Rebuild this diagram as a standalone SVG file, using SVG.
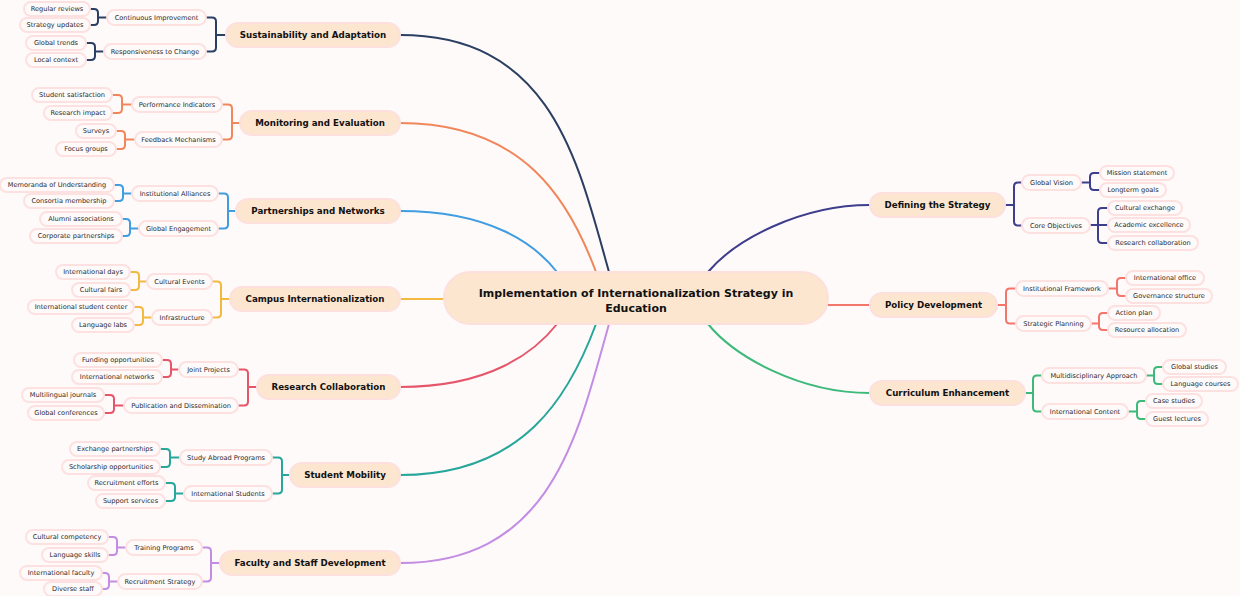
<svg xmlns="http://www.w3.org/2000/svg" width="1240" height="596" viewBox="0 0 1240 596">
<style>
.bg{fill:#fffafa}
.c{fill:none;stroke-width:2;stroke-linecap:round}
.b{fill:none;stroke-width:2}
.root rect{fill:#fce6d0;stroke:#fde0de;stroke-width:2}
.main rect{fill:#fce6d0;stroke:#fde0de;stroke-width:2}
.sub rect,.leaf rect{fill:#fffafa;stroke:#fde0e0;stroke-width:2}
text{font-family:"DejaVu Sans",Verdana,sans-serif;text-anchor:middle;fill:#2a2a2a}
.root text{font-size:11px;font-weight:bold;fill:#111}
.main text{font-size:8.7px;font-weight:bold;fill:#111}
.sub text,.leaf text{font-size:6.6px}
</style>
<rect class="bg" x="0" y="0" width="1240" height="596"/>
<g id="connectors">
<path class="c" stroke="#2a3f61" d="M400 35C552 35 578 162 609 272"/>
<path class="c" stroke="#f0875a" d="M400 123C525 123 570 202 596 272"/>
<path class="c" stroke="#3f9de0" d="M400 211C490 211 535 244 557 272"/>
<path class="c" stroke="#f2b93e" d="M400 299H444"/>
<path class="c" stroke="#e5566a" d="M400 387C490 387 535 352 557 324"/>
<path class="c" stroke="#27a79b" d="M400 475C525 475 570 394 596 324"/>
<path class="c" stroke="#c28de3" d="M400 563C552 563 578 434 609 324"/>
<path class="c" stroke="#3d3e8c" d="M870 205C800 205 735 240 708 272"/>
<path class="c" stroke="#f3756c" d="M828 305H870"/>
<path class="c" stroke="#3dba7a" d="M870 393C800 393 735 357 708 324"/>
<path class="b" stroke="#2a3f61" d="M206 17.5H212Q216 17.5 216 21.5V47.5Q216 51.5 212 51.5H206M216 35H226"/>
<path class="b" stroke="#2a3f61" d="M90 9H94Q98 9 98 13V21Q98 25 94 25H90M98 17.5H107"/>
<path class="b" stroke="#2a3f61" d="M86 43H91Q95 43 95 47V56Q95 60 91 60H86M95 51.5H104"/>
<path class="b" stroke="#f0875a" d="M222 104.5H228Q232 104.5 232 108.5V135.5Q232 139.5 228 139.5H222M232 123H240"/>
<path class="b" stroke="#f0875a" d="M112 95H118Q122 95 122 99V109Q122 113 118 113H112M122 104.5H132"/>
<path class="b" stroke="#f0875a" d="M116 131H121Q125 131 125 135V145Q125 149 121 149H116M125 139.5H135"/>
<path class="b" stroke="#3f9de0" d="M218 193.5H224Q228 193.5 228 197.5V224.5Q228 228.5 224 228.5H218M228 211H236"/>
<path class="b" stroke="#3f9de0" d="M114 185H119Q123 185 123 189V197Q123 201 119 201H114M123 193.5H132"/>
<path class="b" stroke="#3f9de0" d="M122 219H126Q130 219 130 223V232Q130 236 126 236H122M130 228.5H139"/>
<path class="b" stroke="#f2b93e" d="M212 281.5H217Q221 281.5 221 285.5V313.5Q221 317.5 217 317.5H212M221 299H230"/>
<path class="b" stroke="#f2b93e" d="M130 272H135Q139 272 139 276V286Q139 290 135 290H130M139 281.5H147"/>
<path class="b" stroke="#f2b93e" d="M134 307H139Q143 307 143 311V321Q143 325 139 325H134M143 317.5H152"/>
<path class="b" stroke="#e5566a" d="M238 369.5H244Q248 369.5 248 373.5V401.5Q248 405.5 244 405.5H238M248 387H257"/>
<path class="b" stroke="#e5566a" d="M162 360H167Q171 360 171 364V373Q171 377 167 377H162M171 369.5H179"/>
<path class="b" stroke="#e5566a" d="M104 395H110Q114 395 114 399V409Q114 413 110 413H104M114 405.5H124"/>
<path class="b" stroke="#27a79b" d="M272 457.5H278Q282 457.5 282 461.5V489.5Q282 493.5 278 493.5H272M282 475H290"/>
<path class="b" stroke="#27a79b" d="M160 449H166Q170 449 170 453V463Q170 467 166 467H160M170 457.5H180"/>
<path class="b" stroke="#27a79b" d="M165 483H171Q175 483 175 487V497Q175 501 171 501H165M175 493.5H184"/>
<path class="b" stroke="#c28de3" d="M202 547.5H207Q211 547.5 211 551.5V577.5Q211 581.5 207 581.5H202M211 563H220"/>
<path class="b" stroke="#c28de3" d="M108 537H113Q117 537 117 541V551Q117 555 113 555H108M117 547.5H126"/>
<path class="b" stroke="#c28de3" d="M102 573H105Q109 573 109 577V585Q109 589 105 589H102M109 581.5H118"/>
<path class="b" stroke="#3d3e8c" d="M1022 182.5H1018Q1014 182.5 1014 186.5V221.5Q1014 225.5 1018 225.5H1022M1014 205H1005"/>
<path class="b" stroke="#3d3e8c" d="M1100 173H1094Q1090 173 1090 177V186Q1090 190 1094 190H1100M1090 182.5H1081"/>
<path class="b" stroke="#3d3e8c" d="M1108 208H1102Q1098 208 1098 212V239Q1098 243 1102 243H1108M1090 225H1108"/>
<path class="b" stroke="#f3756c" d="M1016 288.5H1010Q1006 288.5 1006 292.5V319.5Q1006 323.5 1010 323.5H1016M1006 305H997"/>
<path class="b" stroke="#f3756c" d="M1126 278H1121Q1117 278 1117 282V292Q1117 296 1121 296H1126M1117 288.5H1108"/>
<path class="b" stroke="#f3756c" d="M1108 313H1103Q1099 313 1099 317V326Q1099 330 1103 330H1108M1099 323.5H1091"/>
<path class="b" stroke="#3dba7a" d="M1042 375.5H1037Q1033 375.5 1033 379.5V407.5Q1033 411.5 1037 411.5H1042M1033 393H1025"/>
<path class="b" stroke="#3dba7a" d="M1163 367H1158Q1154 367 1154 371V380Q1154 384 1158 384H1163M1154 375.5H1146"/>
<path class="b" stroke="#3dba7a" d="M1146 401H1141Q1137 401 1137 405V415Q1137 419 1141 419H1146M1137 411.5H1128"/>
</g>
<g id="root" class="root"><rect x="444" y="272" width="384" height="52" rx="26"/><text x="636" y="297">Implementation of Internationalization Strategy in</text><text x="636" y="311.5">Education</text></g>
<g id="n-sust" class="main"><rect x="226" y="23" width="174" height="24" rx="12"/><text x="313" y="38">Sustainability and Adaptation</text></g>
<g id="n-mon" class="main"><rect x="240" y="111" width="160" height="24" rx="12"/><text x="320" y="126">Monitoring and Evaluation</text></g>
<g id="n-part" class="main"><rect x="236" y="199" width="164" height="24" rx="12"/><text x="318" y="214">Partnerships and Networks</text></g>
<g id="n-camp" class="main"><rect x="230" y="287" width="170" height="24" rx="12"/><text x="315" y="302">Campus Internationalization</text></g>
<g id="n-res" class="main"><rect x="257" y="375" width="143" height="24" rx="12"/><text x="328.5" y="390">Research Collaboration</text></g>
<g id="n-mob" class="main"><rect x="290" y="463" width="110" height="24" rx="12"/><text x="345" y="478">Student Mobility</text></g>
<g id="n-fac" class="main"><rect x="220" y="551" width="180" height="24" rx="12"/><text x="310" y="566">Faculty and Staff Development</text></g>
<g id="n-def" class="main"><rect x="870" y="193" width="135" height="24" rx="12"/><text x="937.5" y="208">Defining the Strategy</text></g>
<g id="n-pol" class="main"><rect x="870" y="293" width="127" height="24" rx="12"/><text x="933.5" y="308">Policy Development</text></g>
<g id="n-cur" class="main"><rect x="870" y="381" width="155" height="24" rx="12"/><text x="947.5" y="396">Curriculum Enhancement</text></g>
<g id="s-ci" class="sub"><rect x="107" y="10" width="99" height="15" rx="7.5"/><text x="156.5" y="19.8">Continuous Improvement</text></g>
<g id="s-rc" class="sub"><rect x="104" y="44" width="102" height="15" rx="7.5"/><text x="155" y="53.8">Responsiveness to Change</text></g>
<g id="l-rr" class="leaf"><rect x="24" y="2" width="66" height="14" rx="7"/><text x="57" y="11.3">Regular reviews</text></g>
<g id="l-su" class="leaf"><rect x="20" y="18" width="70" height="14" rx="7"/><text x="55" y="27.3">Strategy updates</text></g>
<g id="l-gt" class="leaf"><rect x="26" y="36" width="60" height="14" rx="7"/><text x="56" y="45.3">Global trends</text></g>
<g id="l-lc" class="leaf"><rect x="26" y="53" width="60" height="14" rx="7"/><text x="56" y="62.3">Local context</text></g>
<g id="s-pi" class="sub"><rect x="132" y="97" width="90" height="15" rx="7.5"/><text x="177" y="106.8">Performance Indicators</text></g>
<g id="s-fm" class="sub"><rect x="135" y="132" width="87" height="15" rx="7.5"/><text x="178.5" y="141.8">Feedback Mechanisms</text></g>
<g id="l-ss" class="leaf"><rect x="32" y="88" width="80" height="14" rx="7"/><text x="72" y="97.3">Student satisfaction</text></g>
<g id="l-ri" class="leaf"><rect x="44" y="106" width="68" height="14" rx="7"/><text x="78" y="115.3">Research impact</text></g>
<g id="l-sv" class="leaf"><rect x="76" y="124" width="40" height="14" rx="7"/><text x="96" y="133.3">Surveys</text></g>
<g id="l-fg" class="leaf"><rect x="56" y="142" width="60" height="14" rx="7"/><text x="86" y="151.3">Focus groups</text></g>
<g id="s-ia" class="sub"><rect x="132" y="186" width="86" height="15" rx="7.5"/><text x="175" y="195.8">Institutional Alliances</text></g>
<g id="s-ge" class="sub"><rect x="139" y="221" width="79" height="15" rx="7.5"/><text x="178.5" y="230.8">Global Engagement</text></g>
<g id="l-mu" class="leaf"><rect x="0" y="178" width="114" height="14" rx="7"/><text x="57" y="187.3">Memoranda of Understanding</text></g>
<g id="l-cm" class="leaf"><rect x="24" y="194" width="90" height="14" rx="7"/><text x="69" y="203.3">Consortia membership</text></g>
<g id="l-aa" class="leaf"><rect x="40" y="212" width="82" height="14" rx="7"/><text x="81" y="221.3">Alumni associations</text></g>
<g id="l-cp" class="leaf"><rect x="30" y="229" width="92" height="14" rx="7"/><text x="76" y="238.3">Corporate partnerships</text></g>
<g id="s-ce" class="sub"><rect x="147" y="274" width="65" height="15" rx="7.5"/><text x="179.5" y="283.8">Cultural Events</text></g>
<g id="s-in" class="sub"><rect x="152" y="310" width="60" height="15" rx="7.5"/><text x="182" y="319.8">Infrastructure</text></g>
<g id="l-id" class="leaf"><rect x="56" y="265" width="74" height="14" rx="7"/><text x="93" y="274.3">International days</text></g>
<g id="l-cf" class="leaf"><rect x="72" y="283" width="58" height="14" rx="7"/><text x="101" y="292.3">Cultural fairs</text></g>
<g id="l-isc" class="leaf"><rect x="28" y="300" width="106" height="14" rx="7"/><text x="81" y="309.3">International student center</text></g>
<g id="l-ll" class="leaf"><rect x="72" y="318" width="62" height="14" rx="7"/><text x="103" y="327.3">Language labs</text></g>
<g id="s-jp" class="sub"><rect x="179" y="362" width="59" height="15" rx="7.5"/><text x="208.5" y="371.8">Joint Projects</text></g>
<g id="s-pd" class="sub"><rect x="124" y="398" width="114" height="15" rx="7.5"/><text x="181" y="407.8">Publication and Dissemination</text></g>
<g id="l-fo" class="leaf"><rect x="74" y="353" width="88" height="14" rx="7"/><text x="118" y="362.3">Funding opportunities</text></g>
<g id="l-inw" class="leaf"><rect x="72" y="370" width="90" height="14" rx="7"/><text x="117" y="379.3">International networks</text></g>
<g id="l-mj" class="leaf"><rect x="22" y="388" width="82" height="14" rx="7"/><text x="63" y="397.3">Multilingual journals</text></g>
<g id="l-gc" class="leaf"><rect x="28" y="406" width="76" height="14" rx="7"/><text x="66" y="415.3">Global conferences</text></g>
<g id="s-sap" class="sub"><rect x="180" y="450" width="92" height="15" rx="7.5"/><text x="226" y="459.8">Study Abroad Programs</text></g>
<g id="s-ist" class="sub"><rect x="184" y="486" width="88" height="15" rx="7.5"/><text x="228" y="495.8">International Students</text></g>
<g id="l-ep" class="leaf"><rect x="70" y="442" width="90" height="14" rx="7"/><text x="115" y="451.3">Exchange partnerships</text></g>
<g id="l-so" class="leaf"><rect x="62" y="460" width="98" height="14" rx="7"/><text x="111" y="469.3">Scholarship opportunities</text></g>
<g id="l-re" class="leaf"><rect x="88" y="476" width="77" height="14" rx="7"/><text x="126.5" y="485.3">Recruitment efforts</text></g>
<g id="l-ssv" class="leaf"><rect x="96" y="494" width="69" height="14" rx="7"/><text x="130.5" y="503.3">Support services</text></g>
<g id="s-tp" class="sub"><rect x="126" y="540" width="76" height="15" rx="7.5"/><text x="164" y="549.8">Training Programs</text></g>
<g id="s-rs" class="sub"><rect x="118" y="574" width="84" height="15" rx="7.5"/><text x="160" y="583.8">Recruitment Strategy</text></g>
<g id="l-cc" class="leaf"><rect x="26" y="530" width="82" height="14" rx="7"/><text x="67" y="539.3">Cultural competency</text></g>
<g id="l-ls" class="leaf"><rect x="42" y="548" width="66" height="14" rx="7"/><text x="75" y="557.3">Language skills</text></g>
<g id="l-if" class="leaf"><rect x="20" y="566" width="82" height="14" rx="7"/><text x="61" y="575.3">International faculty</text></g>
<g id="l-ds" class="leaf"><rect x="44" y="582" width="58" height="14" rx="7"/><text x="73" y="591.3">Diverse staff</text></g>
<g id="s-gv" class="sub"><rect x="1022" y="175" width="59" height="15" rx="7.5"/><text x="1051.5" y="184.8">Global Vision</text></g>
<g id="s-co" class="sub"><rect x="1022" y="218" width="68" height="15" rx="7.5"/><text x="1056" y="227.8">Core Objectives</text></g>
<g id="l-ms" class="leaf"><rect x="1100" y="166" width="74" height="14" rx="7"/><text x="1137" y="175.3">Mission statement</text></g>
<g id="l-lg" class="leaf"><rect x="1100" y="183" width="66" height="14" rx="7"/><text x="1133" y="192.3">Longterm goals</text></g>
<g id="l-cx" class="leaf"><rect x="1108" y="201" width="74" height="14" rx="7"/><text x="1145" y="210.3">Cultural exchange</text></g>
<g id="l-ae" class="leaf"><rect x="1108" y="218" width="82" height="14" rx="7"/><text x="1149" y="227.3">Academic excellence</text></g>
<g id="l-rco" class="leaf"><rect x="1108" y="236" width="90" height="14" rx="7"/><text x="1153" y="245.3">Research collaboration</text></g>
<g id="s-ifw" class="sub"><rect x="1016" y="281" width="92" height="15" rx="7.5"/><text x="1062" y="290.8">Institutional Framework</text></g>
<g id="s-sp" class="sub"><rect x="1016" y="316" width="75" height="15" rx="7.5"/><text x="1053.5" y="325.8">Strategic Planning</text></g>
<g id="l-io" class="leaf"><rect x="1126" y="271" width="78" height="14" rx="7"/><text x="1165" y="280.3">International office</text></g>
<g id="l-gs" class="leaf"><rect x="1126" y="289" width="86" height="14" rx="7"/><text x="1169" y="298.3">Governance structure</text></g>
<g id="l-ap" class="leaf"><rect x="1108" y="306" width="52" height="14" rx="7"/><text x="1134" y="315.3">Action plan</text></g>
<g id="l-ra" class="leaf"><rect x="1108" y="323" width="78" height="14" rx="7"/><text x="1147" y="332.3">Resource allocation</text></g>
<g id="s-ma" class="sub"><rect x="1042" y="368" width="104" height="15" rx="7.5"/><text x="1094" y="377.8">Multidisciplinary Approach</text></g>
<g id="s-ic" class="sub"><rect x="1042" y="404" width="86" height="15" rx="7.5"/><text x="1085" y="413.8">International Content</text></g>
<g id="l-gst" class="leaf"><rect x="1163" y="360" width="63" height="14" rx="7"/><text x="1194.5" y="369.3">Global studies</text></g>
<g id="l-lco" class="leaf"><rect x="1163" y="377" width="75" height="14" rx="7"/><text x="1200.5" y="386.3">Language courses</text></g>
<g id="l-cs" class="leaf"><rect x="1146" y="394" width="56" height="14" rx="7"/><text x="1174" y="403.3">Case studies</text></g>
<g id="l-gl" class="leaf"><rect x="1146" y="412" width="62" height="14" rx="7"/><text x="1177" y="421.3">Guest lectures</text></g>
</svg>
